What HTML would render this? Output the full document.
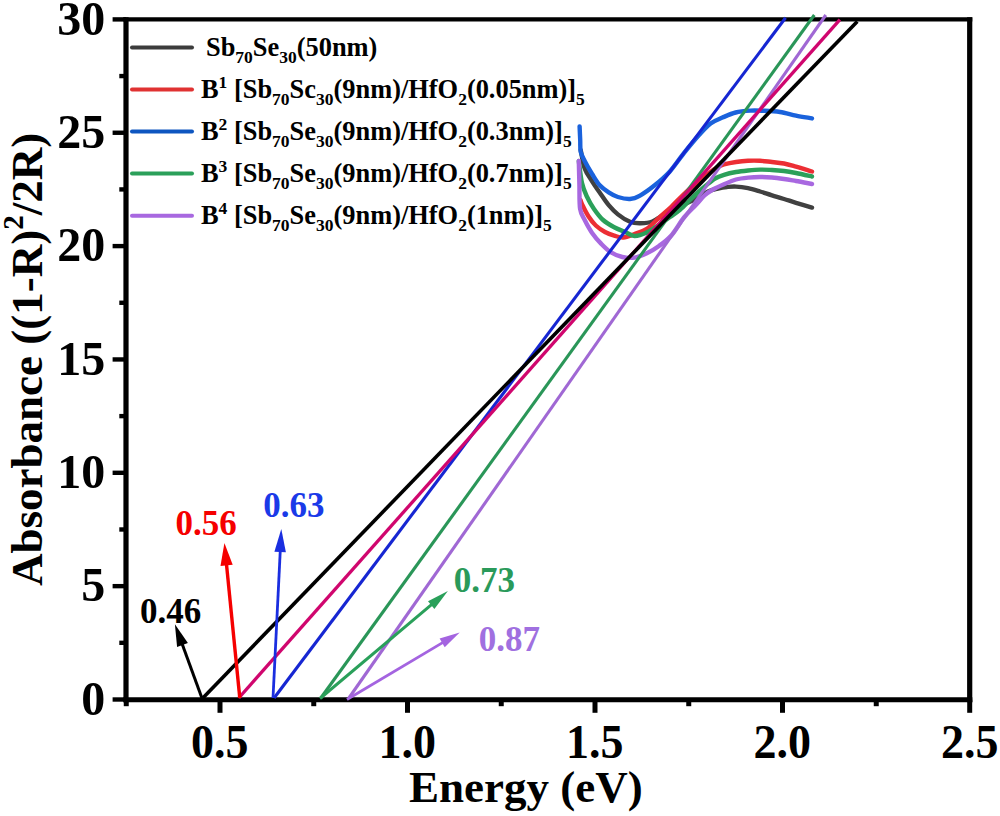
<!DOCTYPE html>
<html><head><meta charset="utf-8"><style>
html,body{margin:0;padding:0;background:#fff;}
body{width:1000px;height:816px;overflow:hidden;position:relative;}
svg{position:absolute;left:0;top:0;}
text{font-family:"Liberation Serif",serif;font-weight:bold;}
</style></head><body>
<svg width="1000" height="816" viewBox="0 0 1000 816">
<text transform="translate(105.2,714.7) scale(1,1.03)" font-size="48" text-anchor="end">0</text>
<text transform="translate(105.2,601.4) scale(1,1.03)" font-size="48" text-anchor="end">5</text>
<text transform="translate(105.2,488.0) scale(1,1.03)" font-size="48" text-anchor="end">10</text>
<text transform="translate(105.2,374.6) scale(1,1.03)" font-size="48" text-anchor="end">15</text>
<text transform="translate(105.2,261.3) scale(1,1.03)" font-size="48" text-anchor="end">20</text>
<text transform="translate(105.2,147.9) scale(1,1.03)" font-size="48" text-anchor="end">25</text>
<text transform="translate(105.2,34.6) scale(1,1.03)" font-size="48" text-anchor="end">30</text>
<text transform="translate(219.8,758.3) scale(1,1.06)" font-size="46" text-anchor="middle">0.5</text>
<text transform="translate(407.3,758.3) scale(1,1.06)" font-size="46" text-anchor="middle">1.0</text>
<text transform="translate(594.8,758.3) scale(1,1.06)" font-size="46" text-anchor="middle">1.5</text>
<text transform="translate(782.3,758.3) scale(1,1.06)" font-size="46" text-anchor="middle">2.0</text>
<text transform="translate(969.8,758.3) scale(1,1.06)" font-size="46" text-anchor="middle">2.5</text>
<text x="409" y="802" font-size="45">Energy (eV)</text>
<text transform="translate(42,586) rotate(-90)" font-size="45">Absorbance ((1-R)<tspan font-size="29" dy="-19">2</tspan><tspan dy="19">/2R)</tspan></text>
<line x1="126" y1="17.3" x2="126" y2="702.2" stroke="#000" stroke-width="5.2"/>
<line x1="969.7" y1="17.3" x2="969.7" y2="702.2" stroke="#000" stroke-width="5.2"/>
<line x1="123.4" y1="19.4" x2="972.3" y2="19.4" stroke="#000" stroke-width="4.2"/>
<line x1="123.4" y1="699.7" x2="972.3" y2="699.7" stroke="#000" stroke-width="5"/>
<line x1="112.6" y1="699.50" x2="126" y2="699.50" stroke="#000" stroke-width="4.4"/>
<line x1="119.3" y1="642.83" x2="126" y2="642.83" stroke="#000" stroke-width="4.4"/>
<line x1="112.6" y1="586.15" x2="126" y2="586.15" stroke="#000" stroke-width="4.4"/>
<line x1="119.3" y1="529.48" x2="126" y2="529.48" stroke="#000" stroke-width="4.4"/>
<line x1="112.6" y1="472.80" x2="126" y2="472.80" stroke="#000" stroke-width="4.4"/>
<line x1="119.3" y1="416.12" x2="126" y2="416.12" stroke="#000" stroke-width="4.4"/>
<line x1="112.6" y1="359.45" x2="126" y2="359.45" stroke="#000" stroke-width="4.4"/>
<line x1="119.3" y1="302.77" x2="126" y2="302.77" stroke="#000" stroke-width="4.4"/>
<line x1="112.6" y1="246.10" x2="126" y2="246.10" stroke="#000" stroke-width="4.4"/>
<line x1="119.3" y1="189.42" x2="126" y2="189.42" stroke="#000" stroke-width="4.4"/>
<line x1="112.6" y1="132.75" x2="126" y2="132.75" stroke="#000" stroke-width="4.4"/>
<line x1="119.3" y1="76.07" x2="126" y2="76.07" stroke="#000" stroke-width="4.4"/>
<line x1="112.6" y1="19.40" x2="126" y2="19.40" stroke="#000" stroke-width="4.4"/>
<line x1="126.25" y1="699.7" x2="126.25" y2="706.2" stroke="#000" stroke-width="5"/>
<line x1="220.00" y1="699.7" x2="220.00" y2="712.8" stroke="#000" stroke-width="5"/>
<line x1="313.75" y1="699.7" x2="313.75" y2="706.2" stroke="#000" stroke-width="5"/>
<line x1="407.50" y1="699.7" x2="407.50" y2="712.8" stroke="#000" stroke-width="5"/>
<line x1="501.25" y1="699.7" x2="501.25" y2="706.2" stroke="#000" stroke-width="5"/>
<line x1="595.00" y1="699.7" x2="595.00" y2="712.8" stroke="#000" stroke-width="5"/>
<line x1="688.75" y1="699.7" x2="688.75" y2="706.2" stroke="#000" stroke-width="5"/>
<line x1="782.50" y1="699.7" x2="782.50" y2="712.8" stroke="#000" stroke-width="5"/>
<line x1="876.25" y1="699.7" x2="876.25" y2="706.2" stroke="#000" stroke-width="5"/>
<line x1="969.70" y1="699.7" x2="969.70" y2="712.8" stroke="#000" stroke-width="5"/>
<path d="M580.7,150.0 C581.4,153.1 582.8,163.2 584.7,168.4 C586.6,173.6 589.6,177.3 592.1,181.3 C594.6,185.3 596.7,188.3 599.5,192.3 C602.3,196.3 605.6,201.5 608.7,205.2 C611.8,208.9 614.4,211.6 617.9,214.4 C621.4,217.2 626.2,220.3 630.0,221.8 C633.8,223.3 636.9,223.4 640.6,223.3 C644.3,223.2 648.3,223.1 652.4,221.5 C656.5,219.9 660.4,216.6 665.0,214.0 C669.6,211.4 674.9,208.5 680.0,206.0 C685.1,203.5 691.1,201.4 695.8,199.0 C700.5,196.6 704.3,193.2 708.0,191.5 C711.7,189.8 714.8,189.3 718.0,188.6 C721.2,187.8 724.0,187.3 727.0,187.0 C730.0,186.7 732.5,186.4 736.0,186.6 C739.5,186.8 744.0,187.4 748.0,188.2 C752.0,189.0 756.0,190.3 760.0,191.5 C764.0,192.7 768.0,194.1 772.0,195.3 C776.0,196.6 780.0,197.8 784.0,199.0 C788.0,200.2 791.3,201.4 796.0,202.8 C800.7,204.2 809.3,206.8 812.0,207.6" fill="none" stroke="#404040" stroke-width="4.4" stroke-linejoin="round" stroke-linecap="round"/>
<path d="M580.5,200.0 C580.8,200.9 581.2,202.5 582.5,205.2 C583.8,207.9 586.2,212.9 588.4,216.3 C590.6,219.7 593.0,222.9 595.8,225.5 C598.6,228.1 601.9,230.3 605.0,232.0 C608.1,233.7 611.1,234.7 614.2,235.6 C617.3,236.5 620.0,237.8 623.4,237.5 C626.8,237.2 630.6,235.4 634.5,234.0 C638.4,232.6 642.7,231.5 646.8,228.8 C650.9,226.1 654.9,221.5 659.0,217.8 C663.1,214.1 667.2,210.7 671.3,206.8 C675.4,202.9 679.4,198.4 683.5,194.5 C687.6,190.6 691.7,187.0 695.8,183.5 C699.9,180.0 704.3,176.4 708.0,173.7 C711.7,170.9 715.3,168.6 718.0,167.0 C720.7,165.4 721.0,165.2 724.0,164.4 C727.0,163.6 732.0,162.6 736.0,162.0 C740.0,161.4 744.0,161.0 748.0,160.8 C752.0,160.6 756.0,160.6 760.0,160.8 C764.0,161.0 768.0,161.6 772.0,162.0 C776.0,162.4 780.0,162.7 784.0,163.5 C788.0,164.3 791.3,165.3 796.0,166.6 C800.7,167.9 809.3,170.7 812.0,171.5" fill="none" stroke="#ec2e34" stroke-width="4.4" stroke-linejoin="round" stroke-linecap="round"/>
<path d="M578.8,161.0 C579.3,164.7 580.7,177.3 582.0,183.1 C583.3,188.9 584.6,191.7 586.6,196.0 C588.6,200.3 591.2,204.9 594.0,208.9 C596.8,212.9 599.7,216.9 603.1,220.0 C606.5,223.1 610.5,225.3 614.2,227.3 C617.9,229.3 621.8,230.6 625.2,232.0 C628.6,233.4 630.9,235.9 634.5,236.0 C638.1,236.1 642.5,234.5 646.8,232.5 C651.0,230.5 656.1,226.6 660.0,224.0 C663.9,221.4 666.7,219.4 670.0,217.0 C673.3,214.6 676.7,212.6 680.0,209.8 C683.3,207.0 686.9,203.0 690.0,200.0 C693.1,197.0 695.7,194.4 698.4,192.0 C701.1,189.6 703.2,187.8 706.0,185.5 C708.8,183.2 712.0,180.3 715.0,178.5 C718.0,176.7 720.5,175.9 724.0,174.8 C727.5,173.7 732.0,172.7 736.0,172.0 C740.0,171.3 744.0,170.9 748.0,170.5 C752.0,170.1 756.0,169.7 760.0,169.6 C764.0,169.5 768.0,169.8 772.0,170.0 C776.0,170.2 780.0,170.5 784.0,171.0 C788.0,171.5 791.3,172.1 796.0,173.0 C800.7,173.9 809.3,175.9 812.0,176.5" fill="none" stroke="#2ba05a" stroke-width="4.4" stroke-linejoin="round" stroke-linecap="round"/>
<path d="M578.8,161.0 C578.9,165.0 579.2,177.0 579.4,185.0 C579.6,193.0 579.2,203.1 580.1,208.9 C581.0,214.7 582.7,216.0 584.7,220.0 C586.7,224.0 589.3,228.9 592.1,232.9 C594.9,236.9 598.2,240.7 601.3,243.9 C604.4,247.1 607.0,249.8 610.5,252.0 C614.0,254.2 618.3,256.1 622.3,257.0 C626.3,257.9 630.4,258.2 634.5,257.6 C638.6,257.0 642.7,255.2 646.8,253.3 C650.9,251.4 654.9,249.0 659.0,246.0 C663.1,243.0 667.1,240.2 671.3,235.5 C675.5,230.8 679.9,222.6 684.0,217.5 C688.1,212.4 692.4,208.7 695.8,205.0 C699.2,201.3 701.8,198.0 704.5,195.5 C707.2,193.0 708.8,191.9 712.0,190.0 C715.2,188.1 720.0,185.9 724.0,184.2 C728.0,182.4 732.0,180.6 736.0,179.5 C740.0,178.4 744.0,178.0 748.0,177.6 C752.0,177.2 756.0,177.0 760.0,177.0 C764.0,177.0 768.0,177.2 772.0,177.5 C776.0,177.8 780.0,178.4 784.0,179.0 C788.0,179.6 791.3,180.2 796.0,181.0 C800.7,181.8 809.3,183.5 812.0,184.0" fill="none" stroke="#a868e0" stroke-width="4.4" stroke-linejoin="round" stroke-linecap="round"/>
<path d="M579.6,126.4 C579.7,128.7 580.0,135.8 580.2,140.0 C580.4,144.2 580.0,148.3 580.7,151.8 C581.5,155.3 582.8,157.3 584.7,161.0 C586.6,164.7 589.6,170.0 592.1,174.0 C594.6,178.0 596.7,181.9 599.5,185.0 C602.3,188.1 605.6,190.3 608.7,192.3 C611.8,194.3 614.4,195.9 617.9,197.0 C621.4,198.1 626.3,199.2 630.0,199.0 C633.7,198.8 635.9,197.9 640.0,195.6 C644.1,193.3 649.8,189.2 654.7,185.3 C659.6,181.4 664.5,177.4 669.4,172.0 C674.3,166.6 679.2,159.0 684.1,152.9 C689.0,146.8 694.4,140.2 698.8,135.3 C703.2,130.4 706.7,126.5 710.6,123.5 C714.5,120.5 718.2,119.4 722.4,117.6 C726.6,115.8 731.0,113.7 735.6,112.5 C740.2,111.3 745.4,110.9 750.3,110.6 C755.2,110.3 760.0,110.6 765.0,110.8 C770.0,111.0 774.8,111.2 780.0,112.0 C785.2,112.8 790.7,114.5 796.0,115.6 C801.3,116.7 809.3,117.9 812.0,118.4" fill="none" stroke="#1a62dc" stroke-width="4.4" stroke-linejoin="round" stroke-linecap="round"/>
<line x1="274.1" y1="698.0" x2="785.6" y2="17.8" stroke="#1626d2" stroke-width="3.1"/>
<line x1="320.8" y1="698.0" x2="814.3" y2="15.0" stroke="#2a9658" stroke-width="3.1"/>
<line x1="348.9" y1="698.0" x2="825.8" y2="15.0" stroke="#a068d4" stroke-width="3.1"/>
<line x1="238.8" y1="698.0" x2="839.9" y2="19.6" stroke="#d0066e" stroke-width="3.3"/>
<line x1="202.9" y1="698.0" x2="857.3" y2="21.4" stroke="#000" stroke-width="3.6"/>
<line x1="201.9" y1="698" x2="181.8" y2="643.1" stroke="#000" stroke-width="3.0"/>
<polygon points="174.9,624.3 187.9,643.0 177.1,646.9" fill="#000"/>
<line x1="239.8" y1="698" x2="226.4" y2="563.4" stroke="#f50000" stroke-width="3.4"/>
<polygon points="224.4,543.0 232.7,564.8 220.5,566.0" fill="#f50000"/>
<line x1="273" y1="698" x2="280.3" y2="550.0" stroke="#1a2ee0" stroke-width="2.8"/>
<polygon points="281.3,529.0 285.9,552.3 274.4,551.7" fill="#1a2ee0"/>
<line x1="320" y1="698.5" x2="432.7" y2="603.7" stroke="#2aa05a" stroke-width="3.0"/>
<polygon points="447.9,591.0 434.4,608.9 428.0,601.2" fill="#2aa05a"/>
<line x1="347" y1="699.5" x2="443.9" y2="641.9" stroke="#a464e0" stroke-width="2.8"/>
<polygon points="459.7,632.5 444.7,647.2 439.6,638.6" fill="#a464e0"/>
<text x="140" y="623.4" font-size="35" fill="#000">0.46</text>
<text x="175.5" y="534.5" font-size="35" fill="#f50000">0.56</text>
<text x="263.3" y="517" font-size="35" fill="#1a3ae8">0.63</text>
<text x="453.7" y="592" font-size="35" fill="#2a9a5a">0.73</text>
<text x="478.7" y="650.5" font-size="35" fill="#a070e0">0.87</text>
<line x1="132" y1="47.6" x2="192" y2="47.6" stroke="#3c3c3c" stroke-width="4" stroke-linecap="round"/>
<text x="206" y="56.1" font-size="26.4">Sb<tspan font-size="17.5" dy="7">70</tspan><tspan dy="-7">Se</tspan><tspan font-size="17.5" dy="7">30</tspan><tspan dy="-7">(50nm)</tspan></text>
<line x1="132" y1="89.6" x2="192" y2="89.6" stroke="#e03232" stroke-width="4" stroke-linecap="round"/>
<text x="201" y="98.1" font-size="26.4">B<tspan font-size="17.5" dy="-10">1</tspan><tspan dy="10"> [Sb</tspan><tspan font-size="17.5" dy="7">70</tspan><tspan dy="-7">Sc</tspan><tspan font-size="17.5" dy="7">30</tspan><tspan dy="-7">(9nm)/HfO</tspan><tspan font-size="17.5" dy="7">2</tspan><tspan dy="-7">(0.05nm)]</tspan><tspan font-size="17.5" dy="7">5</tspan></text>
<line x1="132" y1="131.6" x2="192" y2="131.6" stroke="#0e56c0" stroke-width="4" stroke-linecap="round"/>
<text x="201" y="140.1" font-size="26.4">B<tspan font-size="17.5" dy="-10">2</tspan><tspan dy="10"> [Sb</tspan><tspan font-size="17.5" dy="7">70</tspan><tspan dy="-7">Se</tspan><tspan font-size="17.5" dy="7">30</tspan><tspan dy="-7">(9nm)/HfO</tspan><tspan font-size="17.5" dy="7">2</tspan><tspan dy="-7">(0.3nm)]</tspan><tspan font-size="17.5" dy="7">5</tspan></text>
<line x1="132" y1="173.6" x2="192" y2="173.6" stroke="#2ba05a" stroke-width="4" stroke-linecap="round"/>
<text x="201" y="182.1" font-size="26.4">B<tspan font-size="17.5" dy="-10">3</tspan><tspan dy="10"> [Sb</tspan><tspan font-size="17.5" dy="7">70</tspan><tspan dy="-7">Se</tspan><tspan font-size="17.5" dy="7">30</tspan><tspan dy="-7">(9nm)/HfO</tspan><tspan font-size="17.5" dy="7">2</tspan><tspan dy="-7">(0.7nm)]</tspan><tspan font-size="17.5" dy="7">5</tspan></text>
<line x1="132" y1="215.7" x2="192" y2="215.7" stroke="#a868e0" stroke-width="4" stroke-linecap="round"/>
<text x="201" y="224.2" font-size="26.4">B<tspan font-size="17.5" dy="-10">4</tspan><tspan dy="10"> [Sb</tspan><tspan font-size="17.5" dy="7">70</tspan><tspan dy="-7">Se</tspan><tspan font-size="17.5" dy="7">30</tspan><tspan dy="-7">(9nm)/HfO</tspan><tspan font-size="17.5" dy="7">2</tspan><tspan dy="-7">(1nm)]</tspan><tspan font-size="17.5" dy="7">5</tspan></text>
</svg>
</body></html>
